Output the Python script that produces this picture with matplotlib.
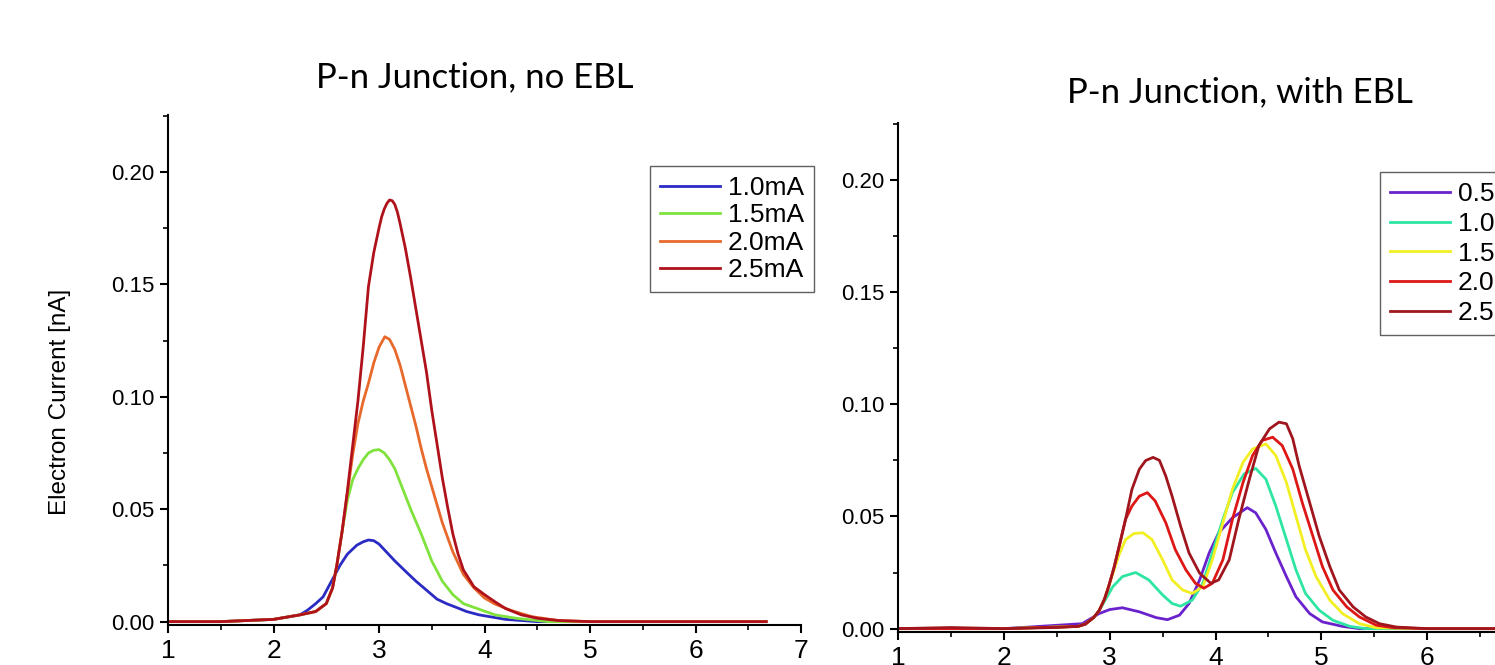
import matplotlib
matplotlib.use("Agg")
import matplotlib.pyplot as plt
from matplotlib.ticker import MultipleLocator

# ---- left panel: P-n junction, no EBL ----
left_labels = ["1.0mA", "1.5mA", "2.0mA", "2.5mA"]
left_colors = ["#2b2bc4", "#80e23c", "#e8692c", "#b0121c"]

x_l10 = [1.0, 1.5, 2.0, 2.25, 2.32, 2.40, 2.47, 2.55, 2.63, 2.70, 2.79, 2.85, 2.90, 2.95, 3.00,
         3.07, 3.15, 3.26, 3.35, 3.45, 3.55, 3.64, 3.75, 3.83, 3.95, 4.05, 4.20, 4.50, 5.0, 5.5, 6.0, 6.67]
y_l10 = [0.000, 0.000, 0.001, 0.003, 0.005, 0.008, 0.011, 0.018, 0.025, 0.030, 0.034, 0.0355, 0.0363, 0.036, 0.0345,
         0.031, 0.027, 0.022, 0.018, 0.014, 0.010, 0.008, 0.006, 0.0045, 0.003, 0.0022, 0.001, 0.000, 0.000, 0.000, 0.000, 0.000]

x_l15 = [1.0, 1.5, 2.0, 2.25, 2.40, 2.50, 2.56, 2.60, 2.65, 2.70, 2.75, 2.80, 2.85, 2.90, 2.95, 3.00,
         3.05, 3.10, 3.15, 3.20, 3.30, 3.40, 3.50, 3.60, 3.70, 3.80, 3.95, 4.10, 4.30, 4.60, 5.0, 5.5, 6.0, 6.67]
y_l15 = [0.000, 0.000, 0.001, 0.003, 0.0045, 0.008, 0.015, 0.025, 0.040, 0.054, 0.063, 0.068, 0.072, 0.075, 0.0762, 0.0765,
         0.075, 0.072, 0.068, 0.062, 0.050, 0.039, 0.027, 0.018, 0.012, 0.008, 0.0055, 0.003, 0.0015, 0.000, 0.000, 0.000, 0.000, 0.000]

x_l20 = [1.0, 1.5, 2.0, 2.25, 2.40, 2.50, 2.56, 2.60, 2.65, 2.70, 2.75, 2.80, 2.85, 2.90, 2.95, 3.00,
         3.055, 3.10, 3.15, 3.20, 3.25, 3.30, 3.35, 3.40, 3.45, 3.50, 3.60, 3.70, 3.80, 3.90, 4.00, 4.10,
         4.25, 4.45, 4.70, 5.0, 5.5, 6.0, 6.67]
y_l20 = [0.000, 0.000, 0.001, 0.003, 0.0045, 0.008, 0.015, 0.025, 0.040, 0.057, 0.074, 0.088, 0.098, 0.106, 0.115, 0.122,
         0.1267, 0.1255, 0.121, 0.114, 0.105, 0.096, 0.087, 0.077, 0.068, 0.060, 0.044, 0.031, 0.021, 0.015, 0.0105, 0.0078,
         0.005, 0.0022, 0.0005, 0.000, 0.000, 0.000, 0.000]

x_l25 = [1.0, 1.5, 2.0, 2.25, 2.40, 2.50, 2.56, 2.60, 2.65, 2.70, 2.75, 2.80, 2.85, 2.90, 2.95, 3.00,
         3.025, 3.05, 3.075, 3.10, 3.125, 3.15, 3.175, 3.20, 3.25, 3.30, 3.35, 3.40, 3.45, 3.50, 3.55, 3.60,
         3.65, 3.70, 3.75, 3.80, 3.90, 4.00, 4.10, 4.20, 4.35, 4.50, 4.70, 5.0, 5.5, 6.0, 6.67]
y_l25 = [0.000, 0.000, 0.001, 0.003, 0.0045, 0.008, 0.015, 0.025, 0.040, 0.058, 0.078, 0.098, 0.122, 0.149, 0.164, 0.175,
         0.180, 0.1835, 0.186, 0.1875, 0.1872, 0.1855, 0.182, 0.177, 0.166, 0.153, 0.139, 0.125, 0.111, 0.094, 0.079, 0.064,
         0.051, 0.039, 0.030, 0.023, 0.0155, 0.012, 0.0088, 0.0058, 0.003, 0.0015, 0.0005, 0.000, 0.000, 0.000, 0.000]

# ---- right panel: P-n junction, with EBL ----
right_labels = ["0.5mA", "1.0mA", "1.5mA", "2.0mA", "2.5mA"]
right_colors = ["#6a22cc", "#2ee6a2", "#f2ef22", "#dd1616", "#a0161e"]

x_r05 = [1.0, 2.0, 2.74, 2.90, 3.00, 3.12, 3.28, 3.44, 3.546, 3.66, 3.75, 3.85, 3.94, 4.03, 4.16, 4.30,
         4.38, 4.476, 4.57, 4.67, 4.76, 4.89, 5.01, 5.20, 5.36, 6.0, 7.0]
y_r05 = [0.000, 0.000, 0.0022, 0.0067, 0.0085, 0.0093, 0.0075, 0.0049, 0.004, 0.006, 0.0112, 0.0217, 0.0337, 0.0427, 0.0494, 0.0539,
         0.0516, 0.0442, 0.0337, 0.0232, 0.0142, 0.0067, 0.003, 0.001, 0.000, 0.000, 0.000]

x_r10 = [1.0, 2.0, 2.70, 2.77, 2.85, 2.90, 3.03, 3.12, 3.246, 3.37, 3.50, 3.59, 3.67, 3.78, 3.88, 3.97,
         4.07, 4.16, 4.27, 4.38, 4.476, 4.57, 4.67, 4.76, 4.85, 4.98, 5.11, 5.27, 5.42, 6.0, 7.0]
y_r10 = [0.000, 0.000, 0.001, 0.002, 0.005, 0.008, 0.0187, 0.0232, 0.025, 0.0217, 0.015, 0.0112, 0.010, 0.0127, 0.0202, 0.0337,
         0.0487, 0.0606, 0.0689, 0.0714, 0.0666, 0.0546, 0.0397, 0.0262, 0.0157, 0.0082, 0.0037, 0.001, 0.000, 0.000, 0.000]

x_r15 = [1.0, 2.0, 2.70, 2.77, 2.85, 2.90, 2.95, 2.99, 3.04, 3.09, 3.15, 3.23, 3.315, 3.40, 3.50, 3.59,
         3.69, 3.78, 3.88, 3.97, 4.07, 4.16, 4.26, 4.35, 4.476, 4.57, 4.67, 4.76, 4.85, 4.95, 5.08, 5.20,
         5.36, 5.52, 6.0, 7.0]
y_r15 = [0.000, 0.000, 0.001, 0.002, 0.005, 0.008, 0.013, 0.0187, 0.026, 0.033, 0.0397, 0.0424, 0.0427, 0.0397, 0.0307, 0.0217,
         0.0172, 0.0157, 0.0187, 0.0307, 0.0472, 0.0621, 0.0741, 0.080, 0.0823, 0.0771, 0.0651, 0.0501, 0.0352, 0.0232, 0.0127, 0.0067,
         0.0022, 0.0004, 0.000, 0.000]

x_r20 = [1.0, 2.0, 2.70, 2.77, 2.85, 2.90, 2.95, 2.99, 3.04, 3.09, 3.15, 3.21, 3.28, 3.356, 3.43, 3.53,
         3.62, 3.72, 3.81, 3.89, 3.97, 4.07, 4.16, 4.26, 4.35, 4.44, 4.54, 4.63, 4.73, 4.82, 4.92, 5.01,
         5.11, 5.24, 5.36, 5.52, 5.68, 6.0, 7.0]
y_r20 = [0.000, 0.000, 0.001, 0.002, 0.005, 0.008, 0.013, 0.0187, 0.027, 0.0367, 0.0487, 0.0546, 0.059, 0.0606, 0.0569, 0.0472,
         0.0352, 0.0262, 0.0202, 0.018, 0.0202, 0.0307, 0.0487, 0.0651, 0.0771, 0.0838, 0.0853, 0.0816, 0.0711, 0.0561, 0.0412, 0.0277,
         0.0172, 0.0097, 0.0052, 0.0015, 0.0004, 0.000, 0.000]

x_r25 = [1.0, 1.5, 2.0, 2.5, 2.70, 2.77, 2.85, 2.90, 2.95, 2.99, 3.04, 3.09, 3.15, 3.21, 3.28, 3.34,
         3.41, 3.47, 3.53, 3.59, 3.67, 3.75, 3.85, 3.956, 4.03, 4.13, 4.22, 4.32, 4.41, 4.51, 4.60, 4.67,
         4.73, 4.79, 4.89, 4.98, 5.08, 5.17, 5.30, 5.42, 5.55, 5.71, 6.0, 6.5, 7.0]
y_r25 = [0.000, 0.0005, 0.000, 0.0005, 0.001, 0.002, 0.005, 0.008, 0.013, 0.0187, 0.027, 0.0367, 0.0487, 0.062, 0.071, 0.0749,
         0.0763, 0.075, 0.068, 0.059, 0.0457, 0.0337, 0.0247, 0.0202, 0.0217, 0.0307, 0.0487, 0.0666, 0.0816, 0.089, 0.092, 0.0913,
         0.0846, 0.0726, 0.0561, 0.0412, 0.0277, 0.0172, 0.0097, 0.0052, 0.0022, 0.0007, 0.000, 0.000, 0.000]

left_series = [(x_l10, y_l10), (x_l15, y_l15), (x_l20, y_l20), (x_l25, y_l25)]
right_series = [(x_r05, y_r05), (x_r10, y_r10), (x_r15, y_r15), (x_r20, y_r20), (x_r25, y_r25)]

W, H = 1495, 665
fig = plt.figure(figsize=(W / 100, H / 100), dpi=100)
fig.patch.set_facecolor("white")

tick_font = "Liberation Sans"


def style_axes(ax, ylim):
    ax.set_xlim(1, 7)
    ax.set_ylim(*ylim)
    for s in ["top", "right"]:
        ax.spines[s].set_visible(False)
    for s in ["left", "bottom"]:
        ax.spines[s].set_linewidth(1.5)
    ax.xaxis.set_major_locator(MultipleLocator(1))
    ax.xaxis.set_minor_locator(MultipleLocator(0.5))
    ax.yaxis.set_major_locator(MultipleLocator(0.05))
    ax.yaxis.set_minor_locator(MultipleLocator(0.025))
    ax.yaxis.set_major_formatter(plt.FuncFormatter(lambda v, p: f"{v:.2f}"))
    ax.tick_params(which="major", direction="out", length=6, width=1.5, pad=4)
    ax.tick_params(which="minor", direction="out", length=3.5, width=1.2)
    ax.tick_params(axis="y", labelsize=16)
    ax.tick_params(axis="x", labelsize=19, pad=4)
    for lab in ax.get_xticklabels() + ax.get_yticklabels():
        lab.set_fontfamily(tick_font)


legend_kw = dict(borderaxespad=0, fancybox=False, edgecolor="#606060", framealpha=1,
                 prop={"family": tick_font, "size": 19}, handlelength=2.27, handletextpad=0.3,
                 borderpad=0.38)

# left axes
ax1 = fig.add_axes([168 / W, 1 - 625 / H, 633 / W, (625 - 115) / H])
for (xs, ys), c, lab in zip(left_series, left_colors, left_labels):
    ax1.plot(xs, ys, color=c, lw=2.0, label=lab)
style_axes(ax1, (-0.0015, 0.2253))
leg1 = ax1.legend(loc="upper left", bbox_to_anchor=(650 / W, 1 - 166 / H),
                  bbox_transform=fig.transFigure, labelspacing=0.13, **legend_kw)
leg1.get_frame().set_linewidth(1.0)

# right axes (runs past the right edge of the picture)
ax2 = fig.add_axes([898 / W, 1 - 632 / H, 635 / W, (632 - 123) / H])
for (xs, ys), c, lab in zip(right_series, right_colors, right_labels):
    ax2.plot(xs, ys, color=c, lw=2.0, label=lab)
style_axes(ax2, (-0.0015, 0.2253))
leg2 = ax2.legend(loc="upper left", bbox_to_anchor=(1380 / W, 1 - 172 / H),
                  bbox_transform=fig.transFigure, labelspacing=0.22, **legend_kw)
leg2.get_frame().set_linewidth(1.0)

# titles and y label
fig.text(475 / W, 1 - 87 / H, "P-n Junction, no EBL", ha="center", va="baseline",
         fontsize=25, family="Lato")
fig.text(1240 / W, 1 - 102 / H, "P-n Junction, with EBL", ha="center", va="baseline",
         fontsize=25, family="Lato")
fig.text(60 / W, 1 - 402 / H, "Electron Current [nA]", ha="center", va="center",
         rotation=90, fontsize=17.5, family=tick_font)

fig.savefig("out.png", dpi=100)
